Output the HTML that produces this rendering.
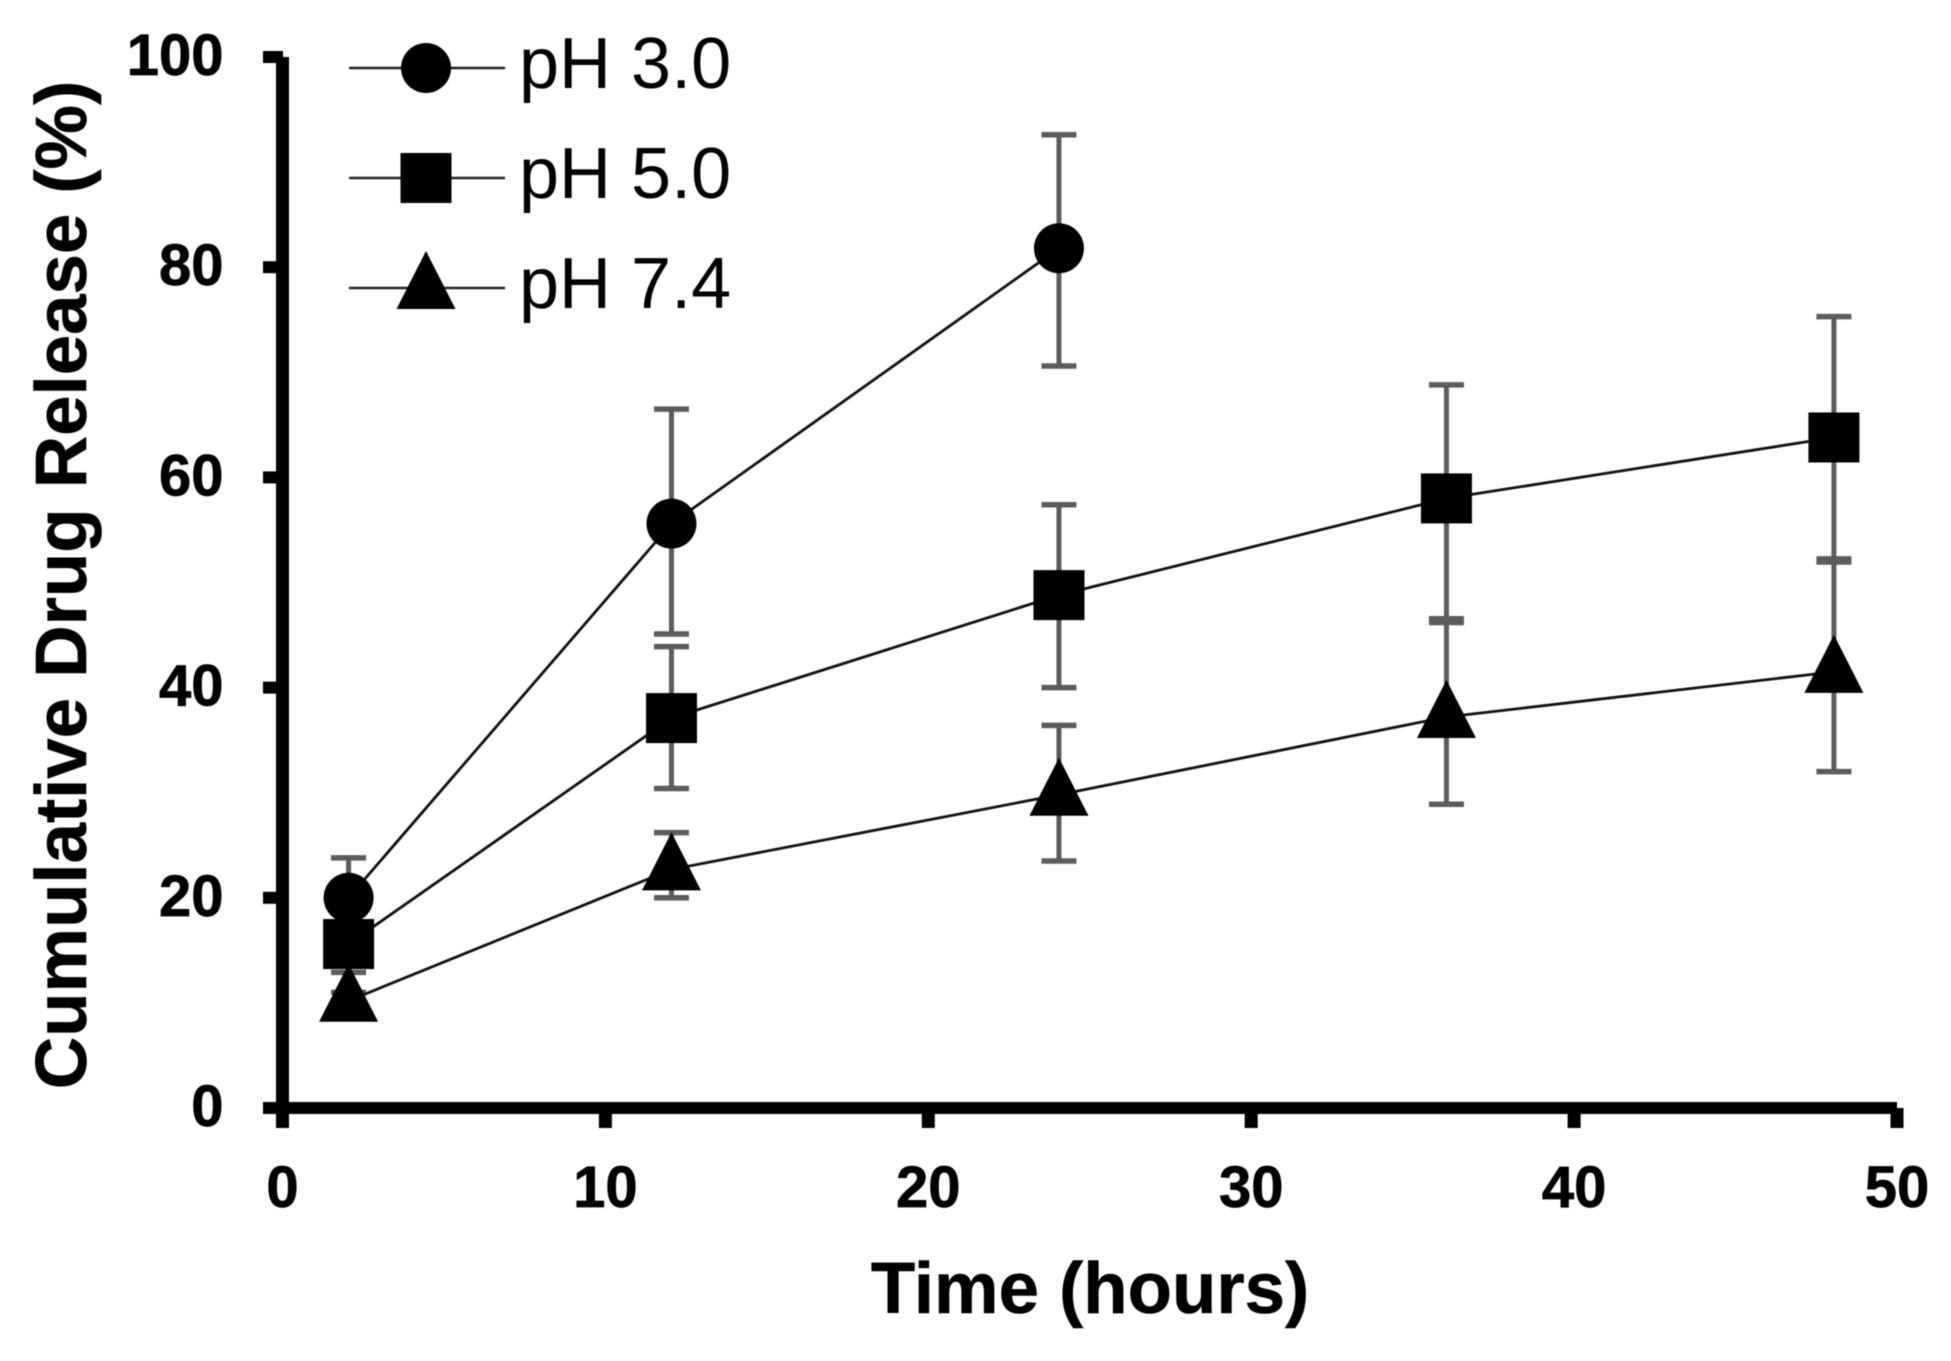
<!DOCTYPE html>
<html lang="en">
<head>
<meta charset="utf-8">
<title>Cumulative Drug Release</title>
<style>
html,body{margin:0;padding:0;background:#fff;width:1951px;height:1361px;overflow:hidden}
svg{display:block;filter:blur(0.6px)}
text{font-family:"Liberation Sans",sans-serif;fill:#000}
.tick{font-size:58px;font-weight:700;stroke:#000;stroke-width:0.7px}
.title{font-size:72.6px;font-weight:700;stroke:#000;stroke-width:0.6px}
.leg{font-size:72px}
</style>
</head>
<body>
<svg id="chart" xmlns="http://www.w3.org/2000/svg" width="1951" height="1361" viewBox="0 0 1951 1361"></svg>
<script>
const xTicks = [0, 10, 20, 30, 40, 50];
const yTicks = [0, 20, 40, 60, 80, 100];
const timeHours = [2, 12, 24, 36, 48];

const ph3Values = [20, 55.6, 81.8];
const ph3ErrHigh = [23.8, 66.5, 92.6];
const ph3ErrLow = [16.5, 45.1, 70.6];

const ph5Values = [15.6, 37.1, 48.8, 58, 63.8];
const ph5ErrHigh = [17.5, 43.9, 57.4, 68.8, 75.3];
const ph5ErrLow = [12.9, 30.4, 40, 46.55, 52.25];

const ph74Values = [10.2, 22.7, 29.8, 37.2, 41.5];
const ph74ErrHigh = [11, 26.2, 36.4, 46.2, 51.95];
const ph74ErrLow = [9, 20, 23.5, 28.9, 32];

const seriesNames = ['pH 3.0', 'pH 5.0', 'pH 7.4'];

const svg = document.getElementById('chart');
const NS = 'http://www.w3.org/2000/svg';
const X0 = 282.5, X1 = 1897, Y0 = 1108, Y1 = 57, DATA_DX = 1.5;
function xAt(v) { return X0 + (v - 0) / 50 * (X1 - X0); }
function yAt(v) { return Y0 - (v - 0) / 100 * (Y0 - Y1); }

function make(tag, attrs, parent) {
  const el = document.createElementNS(NS, tag);
  for (const k in attrs) el.setAttribute(k, attrs[k]);
  (parent || svg).appendChild(el);
  return el;
}

function linePath(xs, ys) {
  return xs.map(function (x, i) { return (i ? 'L' : 'M') + x + ' ' + ys[i]; }).join('');
}

function drawMarker(kind, cx, cy, parent) {
  let el;
  if (kind === 'circle') {
    el = make('circle', { cx: cx, cy: cy, r: 25, fill: '#000' }, parent);
  } else if (kind === 'square') {
    el = make('rect', { x: cx - 25.5, y: cy - 25, width: 51, height: 50, fill: '#000' }, parent);
  } else {
    el = make('polygon', { points: cx + ',' + (cy - 37) + ' ' + (cx + 29.5) + ',' + (cy + 21) + ' ' + (cx - 29.5) + ',' + (cy + 21), fill: '#000' }, parent);
  }
  return el;
}

function drawSeries(label, kind, values, high, low) {
  const g = make('g', {});
  
  
  const xs = values.map(function (_, i) { return xAt(timeHours[i]) + DATA_DX; });
  const ys = values.map(function (v) { return yAt(v); });
  values.forEach(function (_, i) {
    const bar = make('g', { stroke: '#5c5c5c' }, g);
    
    
    make('line', { x1: xs[i], x2: xs[i], y1: yAt(high[i]), y2: yAt(low[i]), 'stroke-width': 5 }, bar);
    make('line', { x1: xs[i] - 17.5, x2: xs[i] + 17.5, y1: yAt(high[i]), y2: yAt(high[i]), 'stroke-width': 5.5 }, bar);
    make('line', { x1: xs[i] - 17.5, x2: xs[i] + 17.5, y1: yAt(low[i]), y2: yAt(low[i]), 'stroke-width': 5.5 }, bar);
  });
  const path = make('path', { d: linePath(xs, ys), fill: 'none', stroke: '#111', 'stroke-width': 2.8 }, g);
  
  
  xs.forEach(function (x, i) {
    const m = drawMarker(kind, x, ys[i], g);
    
    
  });
}

drawSeries(seriesNames[0], 'circle', ph3Values, ph3ErrHigh, ph3ErrLow);
drawSeries(seriesNames[1], 'square', ph5Values, ph5ErrHigh, ph5ErrLow);
drawSeries(seriesNames[2], 'triangle', ph74Values, ph74ErrHigh, ph74ErrLow);

/* axes */
const yAxisLine = make('rect', { x: X0 - 6.5, y: Y1, width: 13, height: Y0 - Y1 + 20, fill: '#000' });


const xAxisLine = make('rect', { x: X0 - 6.5, y: Y0 - 6, width: X1 - X0 + 6.5, height: 12, fill: '#000' });



yTicks.forEach(function (v) {
  const t = make('rect', { x: 263, y: yAt(v) - 6, width: 20, height: 12, fill: '#000' });
  
  
  const l = make('text', { x: 223.5, y: yAt(v) + 18, 'text-anchor': 'end', class: 'tick' });
  l.textContent = v;
  
  
});
xTicks.forEach(function (v) {
  const t = make('rect', { x: xAt(v) - 6.5, y: Y0, width: 13, height: 20, fill: '#000' });
  
  
  const l = make('text', { x: xAt(v), y: 1207, 'text-anchor': 'middle', class: 'tick' });
  l.textContent = v;
  
  
});

/* titles */
const xTitle = make('text', { x: 1090, y: 1313, 'text-anchor': 'middle', class: 'title' });
xTitle.textContent = 'Time (hours)';


const yTitle = make('text', { x: 0, y: 0, 'text-anchor': 'middle', class: 'title', transform: 'translate(86 585) rotate(-90)' });
yTitle.textContent = 'Cumulative Drug Release (%)';



/* legend */
const legendKinds = ['circle', 'square', 'triangle'];
const legend = make('g', {});


seriesNames.forEach(function (name, i) {
  const ly = 68 + i * 110;
  const row = make('g', {}, legend);
  
  
  make('line', { x1: 349, x2: 505, y1: ly, y2: ly, stroke: '#222', 'stroke-width': 2.6 }, row);
  drawMarker(legendKinds[i], 426, ly, row);
  const t = make('text', { x: 519, y: ly + 20, class: 'leg' }, row);
  t.textContent = name;
});
</script>
</body>
</html>
